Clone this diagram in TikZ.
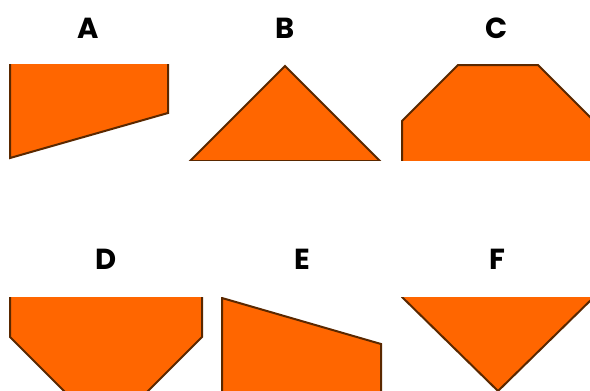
\documentclass[tikz,border=0pt]{standalone}
\usepackage{fontspec}
\setmainfont{Poppins}
\definecolor{shapefill}{HTML}{FF6600}
\definecolor{shapeline}{HTML}{5A2800}
\begin{document}
\begin{tikzpicture}[x=1pt,y=-1pt,
  shp/.style={fill=shapefill,draw=shapeline,line width=2pt,line join=miter},
  lbl/.style={font=\fontsize{29}{29}\selectfont\bfseries,text=black,inner sep=0pt,anchor=base}]
\useasboundingbox[fill=white] (0,0) rectangle (590,391);
% labels
\node[lbl] (la) at (88,38) {A};
\node[lbl] (lb) at (285,38) {B};
\node[lbl] (lc) at (497,38) {C};
\node[lbl] (ld) at (106,269) {D};
\node[lbl] (le) at (302,269) {E};
\node[lbl] (lf) at (497,269) {F};
% row 1
\begin{scope}
\clip (0,64) rectangle (590,160);
\draw[shp] (10,40) -- (10,158) -- (168,113) -- (168,40) -- cycle;
\draw[shp] (285,66) -- (190,161) -- (380,161) -- cycle;
\draw[shp] (402,200) -- (402,121) -- (458,65) -- (538,65) -- (594,121) -- (594,200) -- cycle;
\end{scope}
% row 2
\begin{scope}
\clip (0,297) rectangle (590,391);
\draw[shp] (10,280) -- (10,337) -- (66,393) -- (146,393) -- (202,337) -- (202,280) -- cycle;
\draw[shp] (222,298) -- (381,344) -- (381,420) -- (222,420) -- cycle;
\draw[shp] (402,297) -- (498,391) -- (594,297) -- (594,280) -- (402,280) -- cycle;
\end{scope}
\end{tikzpicture}
\end{document}
